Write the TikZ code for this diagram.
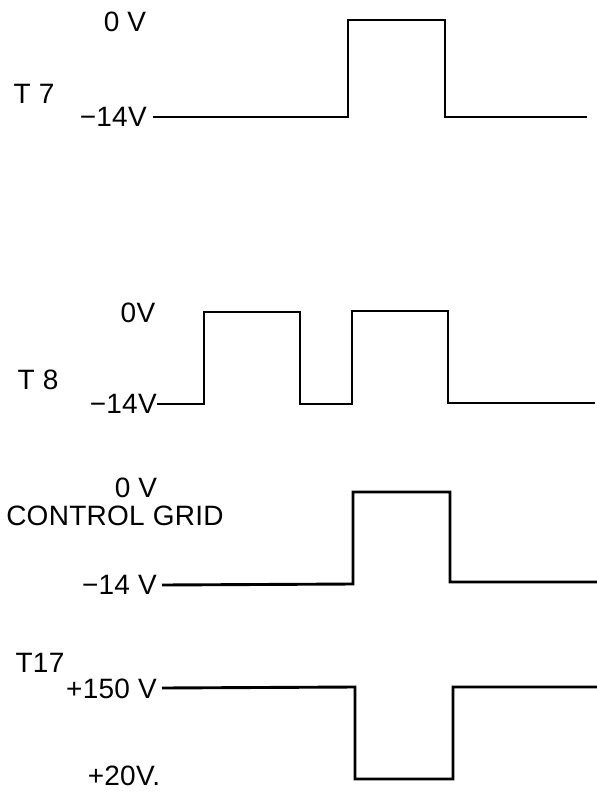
\documentclass[tikz,border=0pt]{standalone}
\usepackage{fontspec}
\setmainfont{Liberation Sans}[LetterSpace=1]
\usetikzlibrary{positioning}
\tikzset{
  lvl/.style={inner sep=0pt, font=\fontsize{28}{30}\selectfont},
  sig/.style={inner sep=0pt, font=\fontsize{28}{30}\selectfont},
  wave/.style={line width=2.9pt, line join=miter, draw=black}
}

\begin{document}
\begin{tikzpicture}[x=1pt,y=-1pt]
    \useasboundingbox (0,0) rectangle (597,793);
    % T7
    \node[lvl] (t7hi) at (125,22) {0 V};
    \node[sig] (t7name) at (34,94) {T 7};
    \node[lvl, anchor=east] (t7lo) at (147,117) {−14V};
    \draw[wave] (t7lo.east) ++(6,0) -- (348,117) -- (348,20) -- (445,20) -- (445,117) -- (587,117);
    % T8
    \node[lvl] (t8hi) at (138,313) {0V};
    \node[sig] (t8name) at (38,380) {T 8};
    \node[lvl, anchor=east] (t8lo) at (157,404) {−14V};
    \draw[wave] (t8lo.east) -- (204,404) -- (204,312) -- (300,312) -- (300,404)
      -- (352,404) -- (352,311) -- (448,311) -- (448,403) -- (595,403);
    % control grid
    \node[lvl] (cghi) at (136,488) {0 V};
    \node[sig] (cgname) at (115,516) {CONTROL GRID};
    \node[lvl, anchor=east] (cglo) at (157,585) {−14 V};
    \draw[wave] (cglo.east) ++(5,0) -- (353,584) -- (353,492) -- (450,492) -- (450,582) -- (597,582);
    % T17
    \node[sig] (t17name) at (40,663) {T17};
    \node[lvl, anchor=east] (t17hi) at (157,689) {+150 V};
    \node[lvl] (t17lo) at (124,776) {+20V.};
    \draw[wave] (t17hi.east) ++(5,-1) -- (355,687) -- (355,779) -- (453,779) -- (453,687) -- (597,687);
\end{tikzpicture}
\end{document}
